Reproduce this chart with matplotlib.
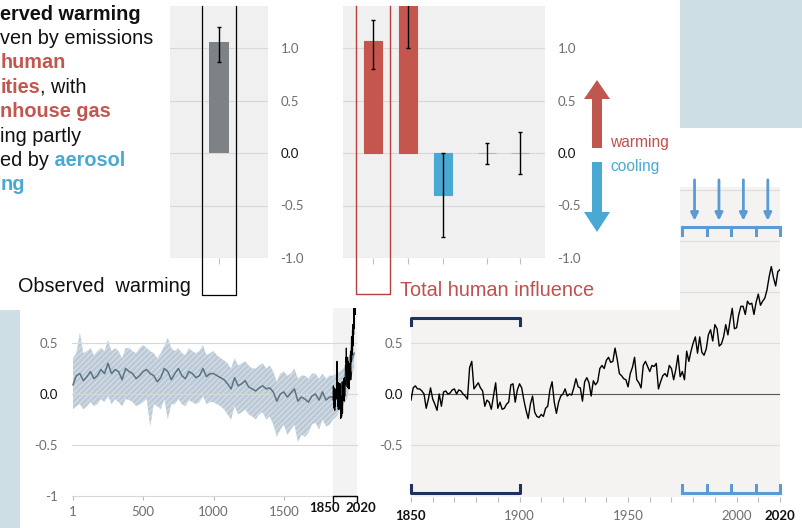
import matplotlib
matplotlib.use("Agg")
import matplotlib.pyplot as plt
from matplotlib.patches import Rectangle, FancyArrow

W, H = 802, 528

# reconstruction (years 1-2000), centre line and band
recon_years = [1] + list(range(25, 2001, 25))
recon_mid = [0.09,
             0.18, 0.20, 0.13, 0.17, 0.22, 0.15, 0.18, 0.24, 0.20, 0.30,
             0.20, 0.24, 0.22, 0.14, 0.25, 0.22, 0.20, 0.15, 0.18, 0.22,
             0.24, 0.20, 0.18, 0.12, 0.16, 0.25, 0.22, 0.14, 0.20, 0.25,
             0.18, 0.15, 0.22, 0.20, 0.16, 0.18, 0.25, 0.17, 0.20, 0.20,
             0.18, 0.16, 0.14, 0.10, 0.05, 0.16, 0.08, 0.10, 0.13, 0.07,
             0.05, 0.03, 0.06, 0.08, 0.05, 0.06, 0.02, -0.07, 0.00, 0.02,
             -0.03, 0.01, 0.05, -0.07, -0.03, -0.05, -0.08, -0.02, 0.00, -0.06,
             0.02, -0.06, -0.03, -0.03, 0.00, 0.05, 0.10, 0.15, 0.30, 0.40]
recon_hi = [0.35,
            0.40, 0.60, 0.40, 0.42, 0.45, 0.38, 0.42, 0.45, 0.42, 0.53,
            0.42, 0.45, 0.42, 0.35, 0.45, 0.45, 0.42, 0.40, 0.45, 0.48,
            0.45, 0.42, 0.40, 0.35, 0.40, 0.47, 0.55, 0.45, 0.42, 0.45,
            0.40, 0.38, 0.45, 0.42, 0.40, 0.42, 0.48, 0.38, 0.40, 0.42,
            0.38, 0.35, 0.33, 0.30, 0.25, 0.35, 0.28, 0.30, 0.32, 0.28,
            0.25, 0.25, 0.28, 0.30, 0.25, 0.28, 0.22, 0.12, 0.20, 0.22,
            0.18, 0.20, 0.25, 0.15, 0.18, 0.18, 0.15, 0.20, 0.20, 0.15,
            0.20, 0.15, 0.18, 0.18, 0.20, 0.22, 0.25, 0.30, 0.45, 0.50]
recon_lo = [-0.15,
            -0.12, -0.10, -0.15, -0.12, -0.08, -0.12, -0.10, -0.05, -0.08, -0.02,
            -0.10, -0.05, -0.08, -0.12, -0.05, -0.06, -0.08, -0.12, -0.10, -0.08,
            -0.05, -0.32, -0.10, -0.12, -0.15, -0.05, -0.25, -0.10, -0.10, -0.05,
            -0.10, -0.12, -0.06, -0.08, -0.10, -0.08, -0.02, -0.10, -0.08, -0.08,
            -0.10, -0.12, -0.15, -0.20, -0.25, -0.12, -0.20, -0.18, -0.15, -0.20,
            -0.22, -0.25, -0.20, -0.18, -0.25, -0.22, -0.30, -0.42, -0.35, -0.30,
            -0.40, -0.35, -0.30, -0.47, -0.40, -0.42, -0.38, -0.30, -0.28, -0.35,
            -0.25, -0.32, -0.30, -0.25, -0.22, -0.15, -0.10, -0.05, 0.15, 0.25]

# observed annual temperature change (1850-2020)
obs_years = list(range(1850, 2021))
obs_temp = [-0.06, 0.06, 0.08, 0.05, 0.05, 0.03, 0.00, -0.14, -0.05, 0.06,
            -0.05, -0.10, -0.16, 0.00, -0.12, 0.02, 0.03, 0.00, 0.01, 0.04,
            0.05, 0.00, 0.04, 0.03, 0.00, -0.02, -0.05, 0.26, 0.32, 0.05,
            0.08, 0.11, 0.06, 0.03, -0.12, -0.06, -0.08, -0.15, -0.02, 0.11,
            -0.14, -0.08, -0.15, -0.14, -0.10, -0.08, 0.09, 0.10, -0.08, 0.04,
            0.10, 0.06, -0.06, -0.16, -0.24, -0.10, -0.02, -0.18, -0.22, -0.23,
            -0.20, -0.22, -0.14, -0.12, 0.04, 0.12, -0.08, -0.19, -0.08, -0.02,
            0.00, 0.05, -0.02, 0.00, -0.01, 0.06, 0.15, 0.07, 0.06, -0.07,
            0.12, 0.16, 0.11, -0.02, 0.13, 0.09, 0.12, 0.25, 0.28, 0.25,
            0.33, 0.36, 0.31, 0.32, 0.45, 0.34, 0.20, 0.18, 0.15, 0.14,
            0.07, 0.20, 0.26, 0.36, 0.14, 0.11, 0.06, 0.28, 0.32, 0.27,
            0.22, 0.28, 0.27, 0.30, 0.05, 0.12, 0.18, 0.20, 0.17, 0.28,
            0.25, 0.14, 0.24, 0.38, 0.17, 0.22, 0.14, 0.42, 0.32, 0.42,
            0.50, 0.56, 0.40, 0.56, 0.41, 0.38, 0.44, 0.58, 0.63, 0.52,
            0.68, 0.64, 0.47, 0.49, 0.56, 0.68, 0.58, 0.72, 0.84, 0.64,
            0.65, 0.78, 0.86, 0.86, 0.78, 0.91, 0.88, 0.89, 0.78, 0.90,
            0.98, 0.87, 0.91, 0.94, 1.02, 1.15, 1.25, 1.14, 1.06, 1.20,
            1.22]

baseline_period = [1850, 1900]
recent_edges = [1975, 1986.25, 1997.5, 2008.75, 2020]

observed_value = [1.06]
observed_low = [0.87]
observed_high = [1.20]

drivers = ["Total human influence", "Well-mixed greenhouse gases",
           "Other human drivers", "Solar and volcanic drivers", "Internal variability"]
driver_value = [1.07, 1.50, -0.40, 0.0, 0.0]
driver_low = [0.80, 1.00, -0.80, -0.10, -0.20]
driver_high = [1.27, 2.00, 0.00, 0.10, 0.20]

intro_lines = [
    [("erved warming", "bold", "black")],
    [("ven by emissions", "normal", "black")],
    [("human", "bold", "red")],
    [("ities", "bold", "red"), (", with", "normal", "black")],
    [("nhouse gas", "bold", "red")],
    [("ing partly", "normal", "black")],
    [("ed by", "normal", "black"), (" aerosol", "bold", "blue")],
    [("ng", "bold", "blue")],
]

RED = "#c4564e"
BLUE = "#4aa9d3"
NAVY = "#1e3160"
LBLUE = "#5b9bd5"
TICK = "#6e6e6e"
GRID = "#d8d8d8"
colours = {"black": "#111111", "red": RED, "blue": BLUE}

plt.rcParams["font.family"] = ["Liberation Sans", "DejaVu Sans"]
plt.rcParams["hatch.linewidth"] = 0.6
plt.rcParams["axes.unicode_minus"] = False


def box(x0, y0, x1, y1):
    return [x0 / W, 1 - y1 / H, (x1 - x0) / W, (y1 - y0) / H]


def style_ticks(ax, labels):
    for lab in labels:
        lab.set_fontfamily("Lato")
        lab.set_fontsize(9.5)
        if lab.get_text() in ("0.0", "1850", "2020"):
            lab.set_color("#111111")
        else:
            lab.set_color(TICK)


fig = plt.figure(figsize=(W / 100, H / 100), dpi=100)
fig.patch.set_facecolor("white")

# ---- bottom left: long reconstruction ----
ax1 = fig.add_axes(box(72, 308, 357, 496), zorder=0)
ax1.set_facecolor("white")
ax1.set_xlim(-6, 2020)
ax1.set_ylim(-1.0, 0.843)
ax1.axvspan(1850, 2020, facecolor="#f3f3f3", edgecolor="none", zorder=0.5)
for v in [0.5, 0.0, -0.5, -1.0]:
    ax1.axhline(v, color=GRID, lw=0.8, clip_on=False)
ax1.fill_between(recon_years, recon_lo, recon_hi, facecolor="#bccad6",
                 edgecolor="#dfe7ee", hatch="//////", lw=0)
ax1.plot(recon_years, recon_mid, color="#5a7383", lw=1.1)
ax1.plot(obs_years, obs_temp, color="black", lw=0.8)
ax1.plot([1850, 1850, 2020, 2020], [-1.06, -1.0, -1.0, -1.06], color="black",
         lw=1.0, clip_on=False)
ax1.set_xticks([1, 500, 1000, 1500])
ax1.set_xticklabels(["1", "500", "1000", "1500"])
ax1.set_yticks([0.5, 0.0, -0.5, -1.0])
ax1.set_yticklabels(["0.5", "0.0", "-0.5", "-1"])
ax1.tick_params(axis="x", length=3, color="#bbbbbb", pad=4)
ax1.tick_params(axis="y", length=0, pad=10)
for s in ax1.spines.values():
    s.set_visible(False)
style_ticks(ax1, ax1.get_xticklabels() + ax1.get_yticklabels())

# ---- bottom right: observed since 1850 ----
ax2 = fig.add_axes(box(411, 187, 780, 497), zorder=0)
ax2.set_facecolor("#f4f3f1")
ax2.set_xlim(1850, 2020)
ax2.set_ylim(-1.01, 2.03)
for v in [2.0, 1.5, 1.0, 0.5, -0.5]:
    ax2.axhline(v, color="#dddddd", lw=0.8)
ax2.axhline(0, color="#555555", lw=0.8)
ax2.plot(obs_years, obs_temp, color="black", lw=1.0)
b0, b1 = baseline_period
ax2.plot([b0, b0, b1, b1], [0.675, 0.745, 0.745, 0.675], color=NAVY, lw=2.2,
         clip_on=False)
ax2.plot([b0, b0, b1, b1], [-0.89, -0.97, -0.97, -0.89], color=NAVY, lw=2.2,
         clip_on=False)
ax2.plot([recent_edges[0], recent_edges[-1]], [-0.97, -0.97], color=LBLUE, lw=2.2,
         clip_on=False)
ax2.plot([recent_edges[0], recent_edges[-1]], [1.637, 1.637], color=LBLUE, lw=2.2,
         clip_on=False)
for e in recent_edges:
    ax2.plot([e, e], [-0.97, -0.89], color=LBLUE, lw=2.2, clip_on=False)
    ax2.plot([e, e], [1.637, 1.56], color=LBLUE, lw=2.2, clip_on=False)
for a, b in zip(recent_edges[:-1], recent_edges[1:]):
    m = (a + b) / 2
    ax2.annotate("", xy=(m, 1.70), xytext=(m, 2.10), annotation_clip=False,
                 arrowprops=dict(arrowstyle="-|>", color=LBLUE, lw=2,
                                 mutation_scale=11, shrinkA=0, shrinkB=0))
ticks = list(range(1850, 2021, 10))
ax2.set_xticks(ticks)
ax2.set_xticklabels([str(t) if t in (1850, 1900, 1950, 2000, 2020) else "" for t in ticks])
ax2.set_yticks([0.5, 0.0, -0.5])
ax2.set_yticklabels(["0.5", "0.0", "-0.5"])
ax2.tick_params(axis="x", length=3.5, color="#bbbbbb", pad=6)
ax2.tick_params(axis="y", length=0, pad=6)
for s in ax2.spines.values():
    s.set_visible(False)
style_ticks(ax2, ax2.get_xticklabels() + ax2.get_yticklabels())
for lab in ax2.get_xticklabels():
    if lab.get_text() in ("1850", "2020"):
        lab.set_fontweight("bold")

# ---- white panel over the bottom charts, plus backdrop blocks ----
cover = fig.add_axes([0, 0, 1, 1], zorder=1)
cover.set_xlim(0, W)
cover.set_ylim(H, 0)
cover.set_axis_off()
cover.add_patch(Rectangle((370, 0), 310, 310, color="white", lw=0))
cover.add_patch(Rectangle((680, 0), 122, 128, color="#cddfe4", lw=0))
cover.add_patch(Rectangle((0, 310), 20, 218, color="#cddfe4", lw=0))

# ---- top left: observed warming bar ----
ax3 = fig.add_axes(box(170, 6, 268, 258), zorder=2)
ax3.set_facecolor("#f0f0f0")
ax3.set_xlim(-2.5, 2.5)
ax3.set_ylim(-1.0, 1.40)
for v in [1.0, 0.5, 0.0, -0.5, -1.0]:
    ax3.axhline(v, color=GRID, lw=0.8)
ax3.bar([0], observed_value, width=0.97, color="#7d8286", zorder=2)
ax3.errorbar([0], observed_value,
             yerr=[[v - l for v, l in zip(observed_value, observed_low)],
                   [h - v for v, h in zip(observed_value, observed_high)]],
             fmt="none", ecolor="black", elinewidth=1, capsize=1.5, zorder=3)

# ---- top right: attributed warming bars ----
ax4 = fig.add_axes(box(343, 6, 545, 258), zorder=2)
ax4.set_facecolor("#f0f0f0")
ax4.set_xlim(-0.86, 4.91)
ax4.set_ylim(-1.0, 1.40)
for v in [1.0, 0.5, 0.0, -0.5, -1.0]:
    ax4.axhline(v, color=GRID, lw=0.8)
pos = [0, 1, 2, 3.25, 4.2]
bar_cols = [RED, RED, BLUE, "#b5b5b5", "#b5b5b5"]
ax4.bar(pos, driver_value, width=0.53, color=bar_cols, edgecolor=bar_cols, lw=0.8, zorder=2)
ax4.errorbar(pos, driver_value,
             yerr=[[v - l for v, l in zip(driver_value, driver_low)],
                   [h - v for v, h in zip(driver_value, driver_high)]],
             fmt="none", ecolor="black", elinewidth=1, capsize=1.5, zorder=3)

for ax, xt in [(ax3, [0]), (ax4, pos)]:
    ax.yaxis.tick_right()
    ax.set_xticks(xt)
    ax.set_xticklabels([""] * len(xt))
    ax.set_yticks([1.0, 0.5, 0.0, -0.5, -1.0])
    ax.set_yticklabels(["1.0", "0.5", "0.0", "-0.5", "-1.0"])
    ax.tick_params(axis="x", length=4, color="#c0c0c0")
    ax.tick_params(axis="y", length=0, pad=9)
    for s in ax.spines.values():
        s.set_visible(False)
    style_ticks(ax, ax.get_yticklabels())

# ---- overlay: text, boxes, arrows ----
ov = fig.add_axes([0, 0, 1, 1], zorder=3)
ov.set_xlim(0, W)
ov.set_ylim(H, 0)
ov.set_axis_off()

for i, line in enumerate(intro_lines):
    t = None
    for s, weight, col in line:
        if t is None:
            t = ov.text(0.5, 19.5 + 24.4 * i, s, fontsize=14.3, fontweight=weight,
                        color=colours[col], va="baseline", ha="left")
        else:
            t = ov.annotate(s, xy=(1, 0), xycoords=t, va="bottom", ha="left",
                            fontsize=14.3, fontweight=weight, color=colours[col])

ov.plot([202, 202, 236, 236], [6, 295, 295, 6], color="black", lw=0.9)
ov.plot([356, 356, 390, 390], [6, 294, 294, 6], color="#b3403b", lw=1.0)
ov.text(18, 287, "Observed  warming", fontsize=14.3, color="#111111", va="center")
ov.text(400, 291, drivers[0], fontsize=14.3, color="#c0504d", va="center")

ov.add_patch(FancyArrow(597, 148, 0, -68, width=10, head_width=26, head_length=19,
                        length_includes_head=True, color="#c0574f", lw=0))
ov.add_patch(FancyArrow(597, 162, 0, 70, width=10, head_width=26, head_length=20,
                        length_includes_head=True, color=BLUE, lw=0))
ov.text(610, 143, "warming", fontsize=11.2, color="#c0504d", va="center")
ov.text(610, 167, "cooling", fontsize=11.2, color=BLUE, va="center")

# bold period labels under the long record
ov.text(340, 508, "1850", fontsize=9.5, fontfamily="Lato", fontweight="bold",
        color="#111111", ha="right", va="center")
ov.text(345, 508, "2020", fontsize=9.5, fontfamily="Lato", fontweight="bold",
        color="#111111", ha="left", va="center")

fig.savefig("out.png", dpi=100)
